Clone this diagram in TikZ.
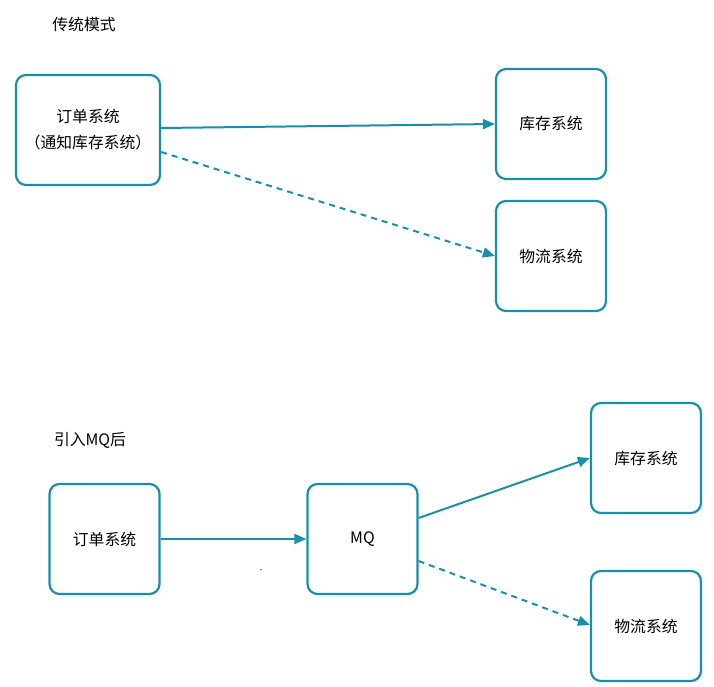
\documentclass[tikz,border=0pt]{standalone}
\usepackage{fontspec}
\setmainfont{Noto Sans CJK SC}
\usetikzlibrary{arrows.meta,calc}
\definecolor{teal1}{HTML}{1A8FAA}
\begin{document}
\begin{tikzpicture}[x=1pt,y=-1pt,
  sysbox/.style={draw=teal1,line width=2.2pt,rounded corners=10pt,minimum width=110pt,minimum height=110pt,inner sep=0pt,font=\fontsize{15.8}{19}\selectfont,align=center},
  conn/.style={draw=teal1,line width=2pt,-{Triangle[length=12pt,width=10pt]}},
  dconn/.style={conn,dash pattern=on 6pt off 5pt},
  lbl/.style={font=\fontsize{15.8}{19}\selectfont,inner sep=0pt}]
\useasboundingbox (0,0) rectangle (714,687);
\node[lbl] (t1) at (84,24) {传统模式};
\node[lbl] (t2) at (90,440) {引入MQ后};
\node[sysbox,minimum width=144pt] (o1) at (88,130) {订单系统\\[7pt]（通知库存系统）};
\node[sysbox] (k1) at (551,124) {库存系统};
\node[sysbox] (w1) at (551,256) {物流系统};
\node[sysbox] (o2) at (104.5,539) {订单系统};
\node[sysbox] (mq) at (362.5,539) {MQ};
\node[sysbox] (k2) at (646,458) {库存系统};
\node[sysbox] (w2) at (646,626) {物流系统};
\node[inner sep=0pt,font=\footnotesize] (d) at (261,571) {-};
\draw[conn] (o1.east |- 0,128) -- (k1.west);
\draw[dconn] (o1.east |- 0,152) -- (w1.west);
\draw[conn] (o2.east) -- (mq.west);
\draw[conn] (mq.east |- 0,518) -- (k2.west);
\draw[dconn] (mq.east |- 0,561) -- ($(w2.west)+(0,-1)$);
\end{tikzpicture}
\end{document}
